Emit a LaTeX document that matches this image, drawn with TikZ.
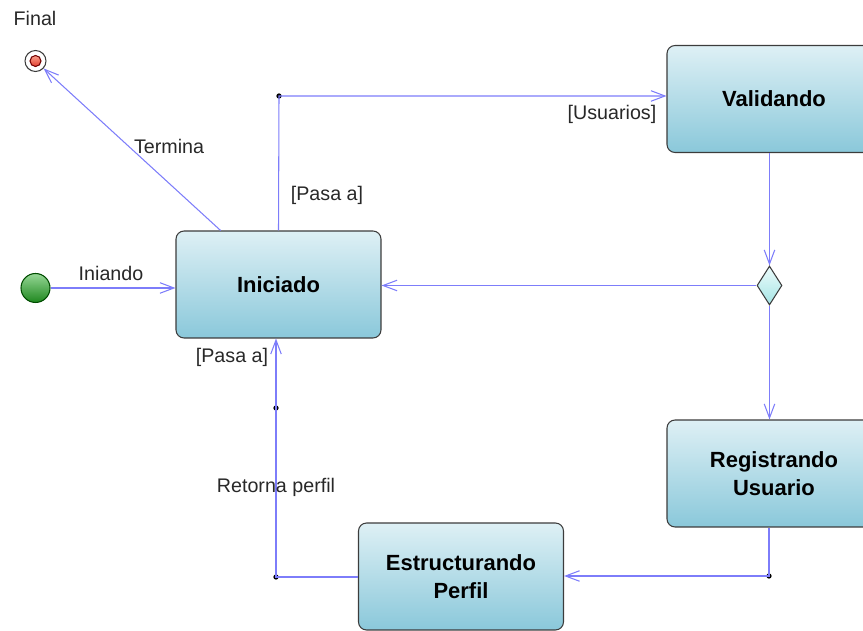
\documentclass[tikz,border=0pt]{standalone}
\usepackage{fontspec}
\setmainfont{Liberation Sans}
\usetikzlibrary{arrows.meta,shapes.geometric}
\definecolor{flowblue}{RGB}{125,125,250}
\definecolor{boxtop}{RGB}{222,240,245}
\definecolor{boxbot}{RGB}{138,200,218}
\definecolor{diatop}{RGB}{236,252,252}
\definecolor{diabot}{RGB}{165,228,228}
\definecolor{edgegray}{RGB}{60,60,60}
\definecolor{labgray}{RGB}{40,40,40}
\definecolor{gotop}{RGB}{150,215,150}
\definecolor{gobot}{RGB}{30,135,30}
\definecolor{endtop}{RGB}{250,160,140}
\definecolor{endbot}{RGB}{225,60,45}

\begin{document}
\begin{tikzpicture}[x=0.02cm, y=-0.02cm, line width=0.6pt,
  state/.style={draw=edgegray, rounded corners=0.16cm, top color=boxtop, bottom color=boxbot,
    minimum width=4.1cm, minimum height=2.14cm, inner sep=0pt, align=center,
    font=\fontsize{12.5}{16}\selectfont\bfseries},
  flow/.style={draw=flowblue, -{Straight Barb[length=8pt,width=6pt]}},
  junc/.style={circle, fill=black, inner sep=0pt, minimum size=3pt},
  lab/.style={text=labgray, font=\fontsize{11.2}{13}\selectfont, inner sep=1pt}]
  \clip (0,0) rectangle (863,631);

  % start and end
  \node[circle, draw=green!30!black, top color=gotop, bottom color=gobot, minimum size=0.58cm, inner sep=0pt] (init) at (35.5,288) {};
  \node[circle, draw=edgegray, fill=white, minimum size=0.42cm, inner sep=0pt] (fin) at (35.5,61) {};
  \node[circle, draw=red!45!black, top color=endtop, bottom color=endbot, minimum size=0.22cm, inner sep=0pt] (finin) at (fin) {};

  % states
  \node[state] (ini) at (278.5,284.5) {Iniciado};
  \node[state, minimum width=4.28cm] (val) at (774,99) {Validando};
  \node[state, minimum width=4.28cm] (reg) at (774,473.5) {Registrando\\Usuario};
  \node[state] (est) at (461,576.5) {Estructurando\\Perfil};
  \node[diamond, draw=edgegray, top color=diatop, bottom color=diabot,
        minimum width=0.5cm, minimum height=0.78cm, inner sep=0pt] (dia) at (769.5,285.5) {};

  % junction points
  \node[junc] (j1) at (279,96) {};
  \node[junc] (j2) at (769,576) {};
  \node[junc] (j3) at (276,577) {};
  \node[junc] (j4) at (276,408) {};

  % transitions
  \draw[flow] (init) -- (init -| ini.west);
  \draw[flow] (ini.137) -- (fin);
  \draw[flow] (ini.north) -- (j1.center) -- (j1 -| val.west);
  \draw[flow] (val.south -| dia) -- (dia.north);
  \draw[flow] (dia.west) -- (dia -| ini.east);
  \draw[flow] (dia.south) -- (dia |- reg.north);
  \draw[flow] (reg.south -| j2) -- (j2.center) -- (j2 -| est.east);
  \draw[flow] (est.west |- j3) -- (j3.center) -- (j4.center) -- (j4 |- ini.south);

  % labels
  \node[lab] (lfin) at (35,18) {Final};
  \node[lab] (lini) at (111,273) {Iniando};
  \node[lab] (lterm) at (169,146) {Termina};
  \node[lab] (lpasa1) at (327,195) {[Pasa a]};
  \node[lab] (lusu) at (612,114) {[Usuarios]};
  \node[lab] (lpasa2) at (232,357) {[Pasa a]};
  \node[lab] (lret) at (276,487) {Retorna perfil};
\end{tikzpicture}
\end{document}
